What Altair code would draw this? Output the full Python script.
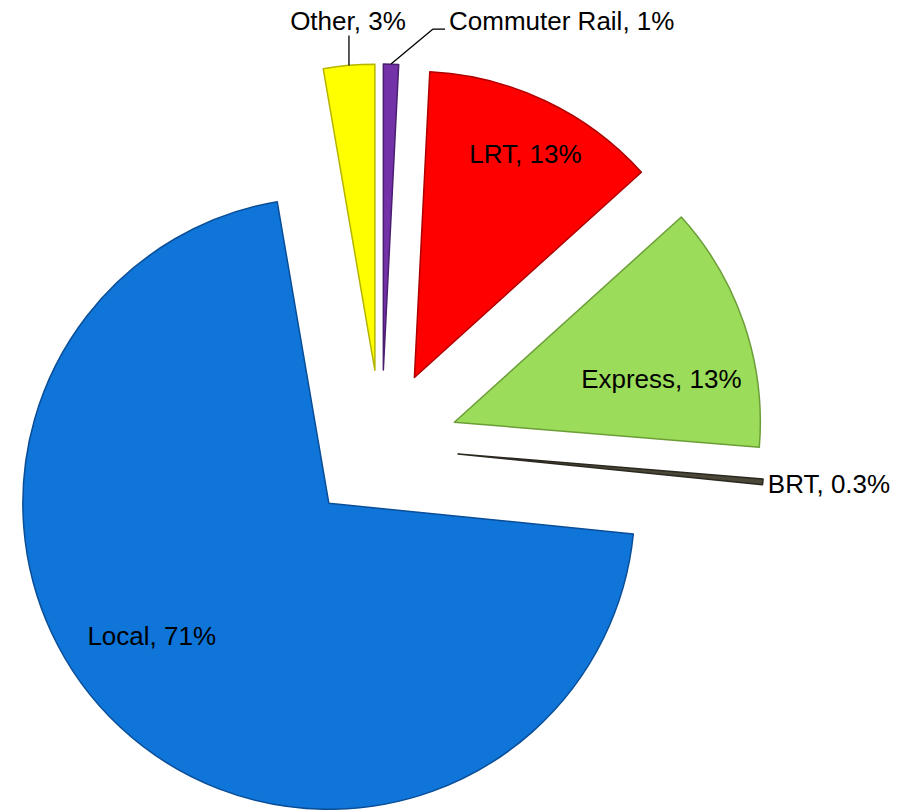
import altair as alt
import pandas as pd

# ---- data (clockwise from 12 o'clock) ----
names = ["Commuter Rail", "LRT", "Express", "BRT", "Local", "Other"]
shares = [0.8, 12.5, 13.0, 0.3, 70.7, 2.7]
pct_text = ["1%", "13%", "13%", "0.3%", "71%", "3%"]
fill_colors = ["#7332A8", "#FF0000", "#9BDC5A", "#4B4838", "#0F75D8", "#FFFF00"]
edge_colors = ["#4A1E70", "#B00000", "#6C9E38", "#2A2820", "#0A4E98", "#B5B500"]

df = pd.DataFrame({
    "name": names,
    "share": shares,
    "pct": pct_text,
    "order": list(range(len(names))),
})

# ---- layout geometry ----
W, H = 908, 810
CX, CY = 381.4, 447.0      # pie centre (pixels)
R = 306                    # slice radius
EXPLODE = 77               # explosion distance
LR = 245                   # inside-label distance from slice vertex
nudge = {"LRT": (6, -1), "Express": (-25, 36), "Local": (-10, -45)}

def nudge_expr(i):
    e = "0"
    for k, v in nudge.items():
        e = f"(datum.name == '{k}' ? {v[i]} : {e})"
    return e

FONT = "Liberation Sans"
FS = 26

base = alt.Chart(df).transform_joinaggregate(
    total="sum(share)"
).transform_window(
    cum="sum(share)", sort=[alt.SortField("order", order="ascending")], frame=[None, 0]
).transform_calculate(
    a0="2*PI*(datum.cum - datum.share)/datum.total",
    a1="2*PI*datum.cum/datum.total",
).transform_calculate(
    mid="(datum.a0 + datum.a1)/2",
).transform_calculate(
    cx=f"{CX} + {EXPLODE}*sin(datum.mid)",
    cy=f"{CY} - {EXPLODE}*cos(datum.mid)",
).transform_calculate(
    ox=f"datum.cx + {R}*sin(datum.mid)",
    oy=f"datum.cy - {R}*cos(datum.mid)",
    lx=f"datum.cx + {LR}*sin(datum.mid) + {nudge_expr(0)}",
    ly=f"datum.cy - {LR}*cos(datum.mid) + {nudge_expr(1)}",
    label="datum.name + ', ' + datum.pct",
)

X = lambda f: alt.X(f, scale=None, axis=None)
Y = lambda f: alt.Y(f, scale=None, axis=None)

arcs = base.mark_arc(radius=R, strokeWidth=1.5, strokeJoin="round").encode(
    x=X("cx:Q"),
    y=Y("cy:Q"),
    theta=alt.Theta("a0:Q", scale=None, stack=None),
    theta2="a1:Q",
    color=alt.Color("name:N", scale=alt.Scale(domain=names, range=fill_colors), legend=None),
    stroke=alt.Stroke("name:N", scale=alt.Scale(domain=names, range=edge_colors), legend=None),
)

inside = base.transform_filter(
    alt.FieldOneOfPredicate(field="name", oneOf=["LRT", "Express", "Local"])
).mark_text(font=FONT, fontSize=FS, color="black", align="center", baseline="middle").encode(
    x=X("lx:Q"), y=Y("ly:Q"), text="label:N"
)

def pick(n):
    return base.transform_filter(alt.datum.name == n)

# Other: vertical leader, label above
other = pick("Other").transform_calculate(ey="datum.oy - 30")
other_rule = other.mark_rule(color="black", strokeWidth=1.3).encode(
    x=X("ox:Q"), y=Y("oy:Q"), x2="ox:Q", y2="ey:Q"
)
other_text = other.mark_text(font=FONT, fontSize=FS, color="black", align="center",
                             baseline="alphabetic", dy=-5, dx=-1).encode(
    x=X("ox:Q"), y=Y("ey:Q"), text="label:N"
)

# Commuter Rail: elbow leader, label to the right
cr = pick("Commuter Rail").transform_calculate(
    ex="datum.ox + 42", ey="datum.oy - 35"
).transform_calculate(ex2="datum.ex + 12")
cr_rule1 = cr.mark_rule(color="black", strokeWidth=1.3).encode(
    x=X("ox:Q"), y=Y("oy:Q"), x2="ex:Q", y2="ey:Q"
)
cr_rule2 = cr.mark_rule(color="black", strokeWidth=1.3).encode(
    x=X("ex:Q"), y=Y("ey:Q"), x2="ex2:Q", y2="ey:Q"
)
cr_text = cr.mark_text(font=FONT, fontSize=FS, color="black", align="left",
                       baseline="alphabetic", dx=4, dy=1).encode(
    x=X("ex2:Q"), y=Y("ey:Q"), text="label:N"
)

# BRT: label right at slice tip
brt_text = pick("BRT").mark_text(font=FONT, fontSize=FS, color="black", align="left",
                                 baseline="middle", dx=5, dy=3).encode(
    x=X("ox:Q"), y=Y("oy:Q"), text="label:N"
)

chart = alt.layer(
    arcs, inside, other_rule, other_text, cr_rule1, cr_rule2, cr_text, brt_text
).properties(
    width=W, height=H, padding=0, autosize="none", background="white"
).configure_view(stroke=None)

chart.save("out.html", embed_options={"renderer": "svg", "actions": False})
